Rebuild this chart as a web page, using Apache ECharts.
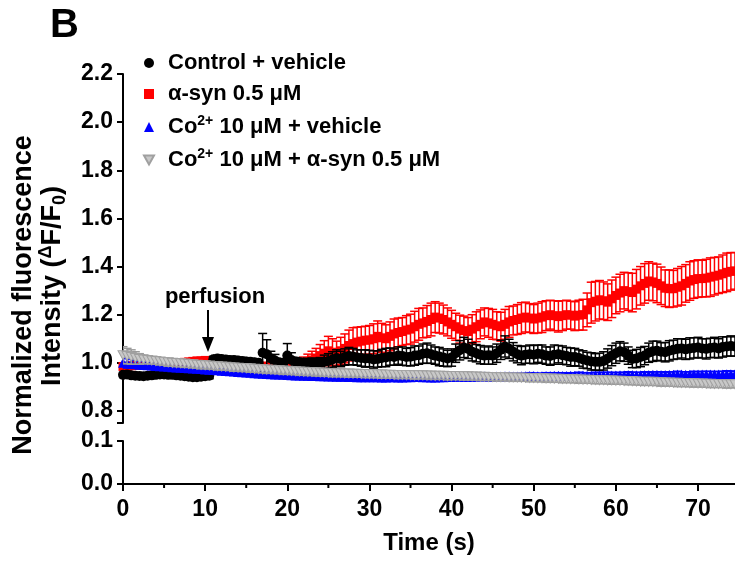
<!DOCTYPE html>
<html><head><meta charset="utf-8">
<script src="https://cdn.jsdelivr.net/npm/echarts@6/dist/echarts.min.js"></script>
<style>html,body{margin:0;padding:0;background:#fff}#c{width:735px;height:561px}</style>
</head><body><div id="c"></div>
<script>
// ---------- DATA ----------
const seriesNames = ['Control + vehicle', 'α-syn 0.5 μM', 'Co2+ 10 μM + vehicle', 'Co2+ 10 μM + α-syn 0.5 μM'];
const times = [
  0,0.5,1,1.5,2,2.5,3,3.5,4,4.5,5,5.5,6,6.5,7,7.5,8,8.5,9,9.5,
  10,10.5,11,11.5,12,12.5,13,13.5,14,14.5,15,15.5,16,16.5,17,17.5,18,18.5,19,19.5,
  20,20.5,21,21.5,22,22.5,23,23.5,24,24.5,25,25.5,26,26.5,27,27.5,28,28.5,29,29.5,
  30,30.5,31,31.5,32,32.5,33,33.5,34,34.5,35,35.5,36,36.5,37,37.5,38,38.5,39,39.5,
  40,40.5,41,41.5,42,42.5,43,43.5,44,44.5,45,45.5,46,46.5,47,47.5,48,48.5,49,49.5,
  50,50.5,51,51.5,52,52.5,53,53.5,54,54.5,55,55.5,56,56.5,57,57.5,58,58.5,59,59.5,
  60,60.5,61,61.5,62,62.5,63,63.5,64,64.5,65,65.5,66,66.5,67,67.5,68,68.5,69,69.5,
  70,70.5,71,71.5,72,72.5,73,73.5,74,74.5];
const xMinorTicks = [5,15,25,35,45,55,65];
const yUpperTickLabels = [0.8,1.0,1.2,1.4,1.6,1.8,2.0,2.2];
const yLowerTickLabels = [0.0,0.1];

const controlMean = [
  0.950,0.952,0.948,0.946,0.945,0.944,0.946,0.948,0.950,0.952,0.952,0.950,0.950,0.948,0.946,0.944,0.942,0.940,0.940,0.942,
  0.944,0.946,1.015,1.018,1.016,1.014,1.012,1.012,1.010,1.008,1.006,1.004,1.002,1.000,1.042,1.036,1.018,1.010,1.002,1.000,
  1.030,1.012,1.006,1.002,1.000,0.998,1.000,0.996,0.998,1.004,1.008,1.014,1.020,1.016,1.024,1.028,1.026,1.022,1.020,1.018,
  1.018,1.014,1.016,1.020,1.022,1.026,1.024,1.030,1.028,1.024,1.025,1.030,1.032,1.038,1.040,1.036,1.030,1.026,1.022,1.018,
  1.022,1.040,1.052,1.064,1.058,1.046,1.040,1.034,1.030,1.032,1.030,1.040,1.054,1.068,1.058,1.046,1.036,1.030,1.034,1.036,
  1.034,1.038,1.036,1.030,1.028,1.034,1.036,1.032,1.028,1.024,1.024,1.020,1.014,1.010,1.006,1.004,1.004,1.008,1.018,1.030,
  1.040,1.048,1.044,1.030,1.016,1.018,1.024,1.030,1.042,1.048,1.050,1.046,1.044,1.050,1.054,1.058,1.060,1.056,1.060,1.062,
  1.064,1.060,1.058,1.062,1.064,1.060,1.066,1.068,1.070,1.068];
const controlErr = [
  0.012,0.012,0.011,0.012,0.012,0.011,0.012,0.012,0.011,0.012,0.012,0.011,0.012,0.012,0.011,0.012,0.012,0.011,0.012,0.012,
  0.012,0.012,0.012,0.014,0.012,0.014,0.012,0.014,0.012,0.014,0.012,0.014,0.012,0.014,0.080,0.060,0.030,0.025,0.014,0.016,
  0.050,0.030,0.016,0.016,0.018,0.020,0.020,0.022,0.024,0.028,0.030,0.032,0.034,0.032,0.034,0.036,0.034,0.032,0.034,0.036,
  0.034,0.036,0.034,0.036,0.038,0.036,0.034,0.036,0.038,0.036,0.038,0.040,0.038,0.040,0.042,0.038,0.036,0.038,0.036,0.034,
  0.036,0.038,0.040,0.042,0.040,0.038,0.036,0.038,0.036,0.038,0.036,0.038,0.040,0.044,0.040,0.038,0.036,0.038,0.036,0.038,
  0.038,0.036,0.038,0.036,0.038,0.040,0.036,0.038,0.036,0.038,0.036,0.034,0.036,0.034,0.036,0.034,0.036,0.038,0.040,0.042,
  0.042,0.040,0.038,0.036,0.036,0.038,0.040,0.038,0.040,0.042,0.040,0.038,0.040,0.042,0.040,0.042,0.040,0.042,0.044,0.042,
  0.042,0.040,0.042,0.040,0.042,0.040,0.042,0.040,0.042,0.040];

const asynMean = [
  0.985,0.984,0.988,0.990,0.990,0.992,0.992,0.994,0.995,0.996,0.996,0.998,0.998,1.000,1.000,1.002,1.004,1.006,1.008,1.008,
  1.010,1.008,1.006,1.004,1.002,1.000,1.000,0.998,0.996,0.994,0.992,0.990,0.990,0.988,0.986,0.986,0.990,0.988,0.985,0.984,
  0.982,0.984,0.988,0.994,1.000,1.006,1.012,1.020,1.030,1.040,1.050,1.044,1.040,1.050,1.060,1.072,1.080,1.086,1.090,1.094,
  1.095,1.100,1.110,1.104,1.100,1.110,1.120,1.126,1.130,1.136,1.140,1.150,1.160,1.166,1.172,1.180,1.190,1.186,1.180,1.170,
  1.160,1.150,1.140,1.134,1.130,1.140,1.150,1.160,1.170,1.166,1.160,1.154,1.150,1.160,1.170,1.176,1.180,1.186,1.190,1.186,
  1.182,1.186,1.190,1.196,1.200,1.196,1.192,1.196,1.200,1.198,1.194,1.198,1.200,1.220,1.250,1.256,1.262,1.258,1.252,1.266,
  1.280,1.290,1.300,1.296,1.292,1.306,1.320,1.330,1.340,1.336,1.330,1.320,1.310,1.308,1.308,1.314,1.320,1.330,1.340,1.346,
  1.350,1.350,1.352,1.356,1.360,1.364,1.370,1.376,1.380,1.382];
const asynErr = [
  0.012,0.012,0.010,0.010,0.010,0.010,0.010,0.010,0.010,0.010,0.010,0.010,0.010,0.010,0.010,0.010,0.010,0.010,0.010,0.010,
  0.010,0.010,0.010,0.010,0.010,0.010,0.010,0.010,0.010,0.010,0.010,0.010,0.010,0.010,0.010,0.010,0.012,0.012,0.012,0.014,
  0.014,0.016,0.018,0.020,0.024,0.030,0.036,0.040,0.046,0.052,0.060,0.056,0.050,0.056,0.060,0.064,0.066,0.062,0.060,0.058,
  0.060,0.062,0.064,0.060,0.058,0.060,0.062,0.060,0.058,0.060,0.062,0.064,0.066,0.062,0.066,0.068,0.064,0.062,0.060,0.058,
  0.058,0.056,0.058,0.060,0.058,0.060,0.062,0.060,0.058,0.060,0.062,0.058,0.060,0.062,0.064,0.060,0.062,0.064,0.062,0.060,
  0.060,0.062,0.064,0.062,0.060,0.062,0.064,0.062,0.060,0.058,0.060,0.062,0.064,0.070,0.085,0.082,0.080,0.078,0.076,0.078,
  0.076,0.078,0.076,0.078,0.080,0.082,0.080,0.082,0.080,0.078,0.080,0.078,0.076,0.078,0.076,0.078,0.080,0.078,0.080,0.078,
  0.078,0.076,0.078,0.080,0.078,0.076,0.078,0.080,0.078,0.076];

const coMean = [
  1.000,0.998,0.996,0.994,0.992,0.991,0.990,0.989,0.987,0.986,0.985,0.984,0.982,0.981,0.980,0.979,0.977,0.976,0.975,0.974,
  0.972,0.971,0.970,0.969,0.967,0.966,0.965,0.964,0.962,0.961,0.960,0.959,0.957,0.956,0.955,0.954,0.953,0.952,0.951,0.950,
  0.949,0.948,0.947,0.947,0.946,0.946,0.945,0.945,0.944,0.944,0.943,0.943,0.942,0.942,0.942,0.941,0.941,0.940,0.940,0.940,
  0.940,0.940,0.940,0.939,0.939,0.940,0.940,0.939,0.939,0.940,0.940,0.941,0.941,0.940,0.940,0.939,0.939,0.940,0.940,0.941,
  0.941,0.942,0.942,0.941,0.941,0.942,0.942,0.943,0.943,0.942,0.942,0.943,0.943,0.944,0.944,0.943,0.943,0.944,0.944,0.945,
  0.945,0.944,0.944,0.945,0.945,0.946,0.946,0.945,0.945,0.946,0.946,0.947,0.947,0.946,0.946,0.947,0.947,0.948,0.948,0.947,
  0.947,0.948,0.948,0.949,0.949,0.948,0.948,0.949,0.949,0.950,0.950,0.949,0.949,0.950,0.950,0.951,0.951,0.950,0.950,0.951,
  0.951,0.952,0.952,0.951,0.951,0.952,0.952,0.953,0.953,0.953];
const coErr = [
  0.020,0.019,0.018,0.016,0.015,0.014,0.013,0.012,0.012,0.013,0.012,0.014,0.012,0.013,0.012,0.014,0.012,0.013,0.012,0.014,
  0.012,0.013,0.012,0.014,0.012,0.013,0.012,0.014,0.012,0.013,0.012,0.014,0.012,0.013,0.012,0.014,0.012,0.013,0.012,0.014,
  0.012,0.013,0.012,0.014,0.012,0.013,0.012,0.014,0.012,0.013,0.012,0.014,0.012,0.013,0.012,0.014,0.012,0.013,0.012,0.014,
  0.012,0.013,0.012,0.014,0.012,0.013,0.012,0.014,0.012,0.013,0.012,0.014,0.012,0.013,0.012,0.014,0.012,0.013,0.012,0.014,
  0.012,0.013,0.012,0.014,0.012,0.013,0.012,0.014,0.012,0.013,0.012,0.014,0.012,0.013,0.012,0.014,0.012,0.013,0.012,0.014,
  0.012,0.013,0.012,0.014,0.012,0.013,0.012,0.014,0.012,0.013,0.012,0.014,0.012,0.013,0.012,0.014,0.012,0.013,0.012,0.014,
  0.012,0.013,0.012,0.014,0.012,0.013,0.012,0.014,0.012,0.013,0.012,0.014,0.012,0.013,0.012,0.014,0.012,0.013,0.012,0.014,
  0.012,0.013,0.012,0.014,0.012,0.013,0.012,0.014,0.012,0.013];

const coAsynMean = [
  1.032,1.028,1.024,1.020,1.016,1.014,1.012,1.010,1.008,1.006,1.004,1.002,1.000,0.999,0.998,0.997,0.995,0.994,0.992,0.991,
  0.990,0.989,0.987,0.986,0.985,0.984,0.982,0.981,0.980,0.979,0.978,0.977,0.975,0.974,0.973,0.972,0.971,0.970,0.969,0.968,
  0.967,0.966,0.965,0.964,0.963,0.962,0.962,0.961,0.960,0.959,0.958,0.958,0.957,0.957,0.956,0.956,0.955,0.955,0.954,0.954,
  0.953,0.953,0.952,0.952,0.951,0.951,0.950,0.950,0.950,0.949,0.949,0.948,0.948,0.948,0.947,0.947,0.946,0.946,0.946,0.945,
  0.945,0.945,0.945,0.944,0.944,0.943,0.943,0.942,0.942,0.941,0.941,0.940,0.940,0.940,0.939,0.939,0.939,0.938,0.938,0.937,
  0.937,0.936,0.936,0.935,0.935,0.934,0.934,0.933,0.933,0.932,0.932,0.931,0.930,0.930,0.929,0.929,0.928,0.928,0.927,0.927,
  0.926,0.926,0.925,0.925,0.924,0.923,0.922,0.922,0.921,0.921,0.920,0.919,0.918,0.918,0.917,0.917,0.916,0.916,0.915,0.915,
  0.914,0.914,0.913,0.913,0.912,0.912,0.912,0.911,0.911,0.911];
const coAsynErr = [
  0.035,0.032,0.030,0.026,0.022,0.018,0.016,0.015,0.014,0.015,0.014,0.016,0.014,0.015,0.014,0.016,0.014,0.015,0.014,0.016,
  0.014,0.015,0.014,0.016,0.014,0.015,0.014,0.016,0.014,0.015,0.014,0.016,0.014,0.015,0.014,0.016,0.014,0.015,0.014,0.016,
  0.014,0.015,0.014,0.016,0.014,0.015,0.014,0.016,0.014,0.015,0.014,0.016,0.014,0.015,0.014,0.016,0.014,0.015,0.014,0.016,
  0.014,0.015,0.014,0.016,0.014,0.015,0.014,0.016,0.014,0.015,0.014,0.016,0.014,0.015,0.014,0.016,0.014,0.015,0.014,0.016,
  0.014,0.015,0.014,0.016,0.014,0.015,0.014,0.016,0.014,0.015,0.014,0.016,0.014,0.015,0.014,0.016,0.014,0.015,0.014,0.016,
  0.014,0.015,0.014,0.016,0.014,0.015,0.014,0.016,0.014,0.015,0.014,0.016,0.014,0.015,0.014,0.016,0.014,0.015,0.014,0.016,
  0.014,0.015,0.014,0.016,0.014,0.015,0.014,0.016,0.014,0.015,0.014,0.016,0.014,0.015,0.014,0.016,0.014,0.015,0.014,0.016,
  0.014,0.015,0.014,0.016,0.014,0.015,0.014,0.016,0.014,0.015];

// ---------- CHART ----------
const FONT = "'Liberation Sans', Arial, Helvetica, sans-serif";
const chart = echarts.init(document.getElementById('c'));

function pts(vals) { return times.map((t, i) => [t, vals[i]]); }
function errPts(vals, errs) { return times.map((t, i) => [t, vals[i], errs[i]]); }
function errRender(color, capW, lw) {
  return function (params, api) {
    const x = api.value(0), y = api.value(1), e = api.value(2);
    const top = api.coord([x, y + e]);
    const bot = api.coord([x, y - e]);
    const st = {stroke: color, lineWidth: lw};
    return {type: 'group', children: [
      {type: 'line', shape: {x1: top[0], y1: top[1], x2: bot[0], y2: bot[1]}, style: st},
      {type: 'line', shape: {x1: top[0] - capW / 2, y1: top[1], x2: top[0] + capW / 2, y2: top[1]}, style: st},
      {type: 'line', shape: {x1: bot[0] - capW / 2, y1: bot[1], x2: bot[0] + capW / 2, y2: bot[1]}, style: st}
    ]};
  };
}
function errSeries(name, vals, errs, color, z) {
  return {name: name + ' err', type: 'custom', xAxisIndex: 0, yAxisIndex: 0, silent: true, clip: true,
    renderItem: errRender(color, 9, 1.5), encode: {x: 0, y: 1}, data: errPts(vals, errs), z: z};
}
function dotSeries(name, vals, symbol, size, color, border, z) {
  return {name: name, type: 'scatter', xAxisIndex: 0, yAxisIndex: 0, clip: true,
    symbol: symbol, symbolSize: size, data: pts(vals), z: z,
    itemStyle: {color: color, borderColor: border || color, borderWidth: border ? 1 : 0, opacity: 1}};
}
const invTri = 'path://M0,0L10,0L5,9Z';

function legendFmt(name) {
  if (name.indexOf('Co2+') === 0) return '{n|Co}{sup|2+}{n|' + name.slice(4) + '}';
  return '{n|' + name + '}';
}

const axisTxt = {color: '#000', fontFamily: FONT, fontWeight: 'bold', fontSize: 23};
const baseGraphic = [
  {type: 'text', left: 50, top: 6, style: {text: 'B', fill: '#000', fontFamily: FONT, fontWeight: 'bold', fontSize: 40}},
  {type: 'text', x: 24, y: 295, rotation: Math.PI / 2,
    style: {text: 'Normalized fluorescence', fill: '#000', fontFamily: FONT, fontWeight: 'bold', fontSize: 27, align: 'center', verticalAlign: 'middle'}},
  {type: 'text', x: 53, y: 286, rotation: Math.PI / 2,
    style: {text: '{t|Intensity (}{s|Δ}{t|F/F}{b|0}{t|)}', align: 'center', verticalAlign: 'middle',
      rich: {
        t: {fill: '#000', fontFamily: FONT, fontWeight: 'bold', fontSize: 27, lineHeight: 32},
        s: {fill: '#000', fontFamily: FONT, fontWeight: 'bold', fontSize: 18, lineHeight: 32, verticalAlign: 'top', padding: [0, 0, 8, 0]},
        b: {fill: '#000', fontFamily: FONT, fontWeight: 'bold', fontSize: 18, lineHeight: 32, verticalAlign: 'bottom'}
      }}},
  {type: 'text', x: 215, y: 297,
    style: {text: 'perfusion', fill: '#000', fontFamily: FONT, fontWeight: 'bold', fontSize: 22, align: 'center', verticalAlign: 'middle'}},
  {type: 'line', shape: {x1: 208, y1: 310, x2: 208, y2: 339}, style: {stroke: '#000', lineWidth: 2}},
  {type: 'polygon', shape: {points: [[202, 337], [214, 337], [208, 352]]}, style: {fill: '#000'}}
];

const option = {
  animation: false,
  backgroundColor: '#fff',
  grid: [
    {left: 123, right: 0, top: 74, height: 349},
    {left: 123, right: 0, top: 441, height: 43}
  ],
  xAxis: [
    {gridIndex: 0, type: 'value', min: 0, max: 74.5, show: false},
    {gridIndex: 1, type: 'value', min: 0, max: 74.5, interval: 10,
      axisLine: {show: true, lineStyle: {color: '#000', width: 2}},
      axisTick: {show: true, length: 7, lineStyle: {color: '#000', width: 2}},
      axisLabel: Object.assign({margin: 14, showMaxLabel: false, formatter: v => String(v)}, axisTxt),
      splitLine: {show: false},
      name: 'Time (s)', nameLocation: 'middle', nameGap: 47,
      nameTextStyle: {color: '#000', fontFamily: FONT, fontWeight: 'bold', fontSize: 24}}
  ],
  yAxis: [
    {gridIndex: 0, type: 'value', min: 0.75, max: 2.2,
      axisLine: {show: true, lineStyle: {color: '#000', width: 2}},
      axisTick: {show: true, length: 6, lineStyle: {color: '#000', width: 2}, customValues: [0.75].concat(yUpperTickLabels)},
      axisLabel: Object.assign({margin: 10, padding: [4, 0, 0, 0], customValues: yUpperTickLabels, formatter: v => Number(v).toFixed(1)}, axisTxt),
      splitLine: {show: false}},
    {gridIndex: 1, type: 'value', min: 0, max: 0.1, interval: 0.1,
      axisLine: {show: true, lineStyle: {color: '#000', width: 2}},
      axisTick: {show: true, length: 6, lineStyle: {color: '#000', width: 2}},
      axisLabel: Object.assign({margin: 10, padding: [4, 0, 0, 0], formatter: v => Number(v).toFixed(1)}, axisTxt),
      splitLine: {show: false}}
  ],
  legend: {
    data: seriesNames, orient: 'vertical', left: 138, top: 47,
    itemWidth: 10, itemHeight: 10, itemGap: 9, selectedMode: false,
    formatter: legendFmt,
    textStyle: {color: '#000', fontFamily: FONT, fontWeight: 'bold', fontSize: 22, padding: [0, 0, 0, 9],
      rich: {
        n: {color: '#000', fontFamily: FONT, fontWeight: 'bold', fontSize: 22, lineHeight: 26},
        sup: {color: '#000', fontFamily: FONT, fontWeight: 'bold', fontSize: 14, lineHeight: 26, verticalAlign: 'top', padding: [0, 0, 10, 0]}
      }}
  },
  graphic: baseGraphic,
  series: [
    errSeries(seriesNames[1], asynMean, asynErr, '#ff0000', 1),
    dotSeries(seriesNames[1], asynMean, 'rect', 9, '#ff0000', null, 2),
    errSeries(seriesNames[0], controlMean, controlErr, '#000000', 3),
    dotSeries(seriesNames[0], controlMean, 'circle', 10, '#000000', null, 4),
    errSeries(seriesNames[2], coMean, coErr, '#0000ff', 5),
    dotSeries(seriesNames[2], coMean, 'triangle', 10, '#0000ff', null, 6),
    errSeries(seriesNames[3], coAsynMean, coAsynErr, '#9a9a9a', 7),
    dotSeries(seriesNames[3], coAsynMean, invTri, [10, 9], '#c8c8c8', '#a0a0a0', 8)
  ]
};
try { chart.setOption(option); } catch (e) { console.error(e); }

// minor x ticks placed with the lower axis's own scale
try {
  const py = chart.convertToPixel({yAxisIndex: 1}, 0);
  const minorEls = xMinorTicks.map(v => {
    const px = chart.convertToPixel({xAxisIndex: 1}, v);
    return {type: 'line', shape: {x1: px, y1: py, x2: px, y2: py + 4}, style: {stroke: '#000', lineWidth: 2}};
  });
  chart.setOption({graphic: baseGraphic.concat(minorEls)});
} catch (e) { console.error(e); }
</script>
</body></html>
